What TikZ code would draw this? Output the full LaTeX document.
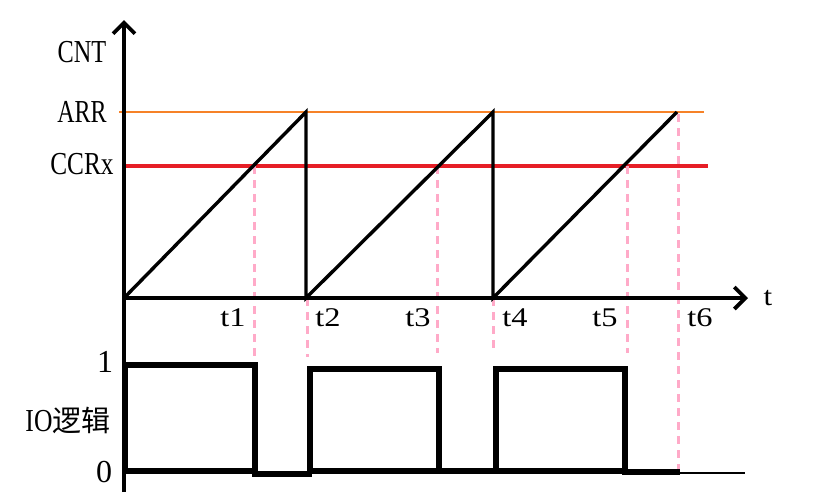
\documentclass[tikz,border=0pt]{standalone}
\usepackage{fontspec}
\usepackage{graphicx}
\setmainfont{Liberation Serif}
\newfontfamily\cjk{Noto Sans CJK SC}
\usetikzlibrary{arrows.meta}
\definecolor{arrorange}{RGB}{246,130,40}
\definecolor{ccrred}{RGB}{230,30,38}
\definecolor{dashpink}{RGB}{255,170,200}
\newcommand\nx[2]{\scalebox{#1}[1]{#2}}
\begin{document}
\begin{tikzpicture}[x=1pt,y=-1pt,
  ylbl/.style={font=\fontsize{32}{34}\selectfont, inner sep=0pt, anchor=center},
  tlbl/.style={font=\fontsize{27}{30}\selectfont, inner sep=0pt, anchor=center},
  axisline/.style={line width=3.2pt, line cap=butt, -{Straight Barb[length=11pt,width=22pt,line width=3.8pt]}},
  sawline/.style={line width=3.4pt, line join=miter},
  arrline/.style={draw=arrorange, line width=2.4pt},
  ccrline/.style={draw=ccrred, line width=3.4pt},
  guide/.style={draw=dashpink, line width=3pt, dash pattern=on 8pt off 6pt},
  wave/.style={line width=6pt, line join=miter, line cap=rect},
  tail/.style={line width=2.4pt}]
\useasboundingbox (0,0) rectangle (839,499);
% coordinates
\coordinate (O) at (124,298);
\coordinate (ytop) at (124,20);
\coordinate (ybot) at (124,492);
\coordinate (xend) at (748,298);
\coordinate (arrS) at (119,112); \coordinate (arrE) at (704,112);
\coordinate (ccrS) at (124,166); \coordinate (ccrE) at (708,166);
\coordinate (p1) at (306,112); \coordinate (b1) at (306,298);
\coordinate (p2) at (493,112); \coordinate (b2) at (493,298);
\coordinate (p3) at (677,112);
% reference lines
\draw[arrline] (arrS) -- (arrE);
\draw[ccrline] (ccrS) -- (ccrE);
% dashed guides
\draw[guide] (254,166) -- (254,357);
\draw[guide] (307,298) -- (307,357);
\draw[guide] (437,166) -- (437,353);
\draw[guide] (493,298) -- (493,350);
\draw[guide] (627,166) -- (627,353);
\draw[guide] (678,114) -- (678,470);
% axes
\draw[line width=3.2pt] (ybot) -- (O);
\draw[axisline] (O) -- (ytop);
\draw[axisline] (O) -- (xend);
% sawtooth
\draw[sawline] (O) -- (p1) -- (b1) -- (p2) -- (b2) -- (p3);
% IO wave
\draw[wave] (125,365) rectangle (255,471);
\draw[wave] (255,474) -- (309,474);
\draw[wave] (310,369) rectangle (439,471);
\draw[wave] (439,471) -- (496,471);
\draw[wave] (496,369) rectangle (625,471);
\draw[wave] (625,472) -- (677,472);
\draw[tail] (678,473) -- (745,473);
% labels
\node[ylbl] (lcnt) at (82,52) {\nx{0.76}{CNT}};
\node[ylbl] (larr) at (82,112) {\nx{0.75}{ARR}};
\node[ylbl] (lccr) at (82,164) {\nx{0.79}{CCRx}};
\node[ylbl] (lone) at (105,362) {1};
\node[ylbl] (lio) at (68,420) {\nx{0.8}{IO}{\cjk\fontsize{29}{30}\selectfont 逻辑}};
\node[ylbl] (lzero) at (104,472) {0};
\node[tlbl] (lt) at (768,298) {\nx{1.15}{t}};
\node[tlbl] (lt1) at (233,318) {\nx{1.2}{t1}};
\node[tlbl] (lt2) at (328,318) {\nx{1.2}{t2}};
\node[tlbl] (lt3) at (418,318) {\nx{1.2}{t3}};
\node[tlbl] (lt4) at (515,318) {\nx{1.2}{t4}};
\node[tlbl] (lt5) at (605,318) {\nx{1.2}{t5}};
\node[tlbl] (lt6) at (700,318) {\nx{1.2}{t6}};
\end{tikzpicture}
\end{document}
